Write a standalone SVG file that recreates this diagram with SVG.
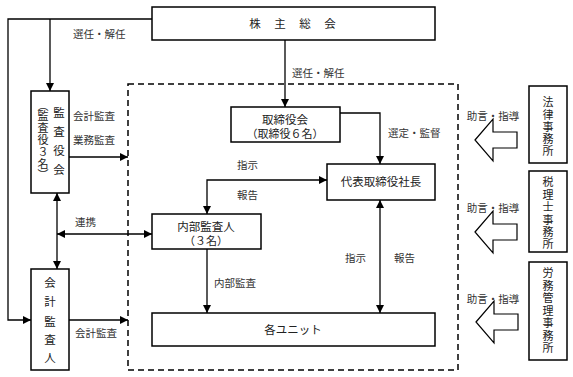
<svg xmlns="http://www.w3.org/2000/svg" width="573" height="377" viewBox="0 0 573 377">
<style>
.box{fill:#fff;stroke:#000;stroke-width:1.5}
.ln{fill:none;stroke:#000;stroke-width:1.3}
.blk{fill:#fff;stroke:#000;stroke-width:1.2;stroke-linejoin:miter}
text{font-family:"Noto Sans CJK JP","Noto Sans CJK SC",sans-serif;font-size:11.5px;fill:#222}
.c{text-anchor:middle}
.lb{font-size:10.5px;fill:#333}
.s{font-size:11px}
</style>
<defs>
<marker id="ah" viewBox="0 0 10 10" refX="10" refY="5" markerWidth="8" markerHeight="8" markerUnits="userSpaceOnUse" orient="auto-start-reverse">
<path d="M0,0 L10,5 L0,10 Z" fill="#000"/>
</marker>
</defs>
<rect x="0" y="0" width="573" height="377" fill="#fff"/>
<rect x="128" y="84" width="330" height="286" fill="none" stroke="#000" stroke-width="1.5" stroke-dasharray="6,4"/>
<g id="connectors">
<polyline class="ln" points="152,19 8,19 8,320 31,320" marker-end="url(#ah)"/>
<line class="ln" x1="50" y1="19" x2="50" y2="91" marker-end="url(#ah)"/>
<line class="ln" x1="285" y1="40" x2="285" y2="107" marker-end="url(#ah)"/>
<line class="ln" x1="69" y1="157" x2="128" y2="157" marker-end="url(#ah)"/>
<line class="ln" x1="57" y1="193" x2="57" y2="269" marker-start="url(#ah)" marker-end="url(#ah)"/>
<line class="ln" x1="57" y1="234" x2="152" y2="234" marker-start="url(#ah)" marker-end="url(#ah)"/>
<line class="ln" x1="69" y1="320" x2="128" y2="320" marker-end="url(#ah)"/>
<polyline class="ln" points="340,113 380,113 380,164" marker-end="url(#ah)"/>
<polyline class="ln" points="207,214 207,180 327,180" marker-start="url(#ah)" marker-end="url(#ah)"/>
<line class="ln" x1="207" y1="249" x2="207" y2="313" marker-end="url(#ah)"/>
<line class="ln" x1="380" y1="200" x2="380" y2="313" marker-start="url(#ah)" marker-end="url(#ah)"/>
<polygon class="blk" points="475,140 493,119 493,132 517,132 517,148 493,148 493,161"/>
<polygon class="blk" points="475,232 493,211 493,224 517,224 517,240 493,240 493,253"/>
<polygon class="blk" points="476,322 494,301 494,314 518,314 518,330 494,330 494,343"/>
<text class="lb" x="73" y="38">選任・解任</text>
<text class="lb" x="292" y="77">選任・解任</text>
<text class="lb" x="73" y="120">会計監査</text>
<text class="lb" x="73" y="144">業務監査</text>
<text class="lb" x="75" y="226">連携</text>
<text class="lb" x="75" y="337">会計監査</text>
<text class="lb" x="388" y="137">選定・監督</text>
<text class="lb" x="237" y="169">指示</text>
<text class="lb" x="237" y="199">報告</text>
<text class="lb" x="214" y="287">内部監査</text>
<text class="lb" x="345" y="262">指示</text>
<text class="lb" x="394" y="262">報告</text>
<text class="lb c" x="493" y="120">助言・指導</text>
<text class="lb c" x="493" y="212">助言・指導</text>
<text class="lb c" x="493" y="303">助言・指導</text>
</g>
<g id="kabunushi">
<rect class="box" x="152" y="7" width="283" height="33"/>
<text class="c" x="255" y="28">株</text>
<text class="c" x="280" y="28">主</text>
<text class="c" x="305" y="28">総</text>
<text class="c" x="330" y="28">会</text>
</g>
<g id="kansayakukai">
<rect class="box" x="31" y="91" width="38" height="102"/>
<text class="c" x="59" y="117">監</text>
<text class="c" x="59" y="136">査</text>
<text class="c" x="59" y="155">役</text>
<text class="c" x="59" y="174">会</text>
<text class="c s" x="43" y="110">︵</text>
<text class="c s" x="43" y="120">監</text>
<text class="c s" x="43" y="132">査</text>
<text class="c s" x="43" y="144">役</text>
<text class="c s" x="43" y="156">３</text>
<text class="c s" x="43" y="168">名</text>
<text class="c s" x="43" y="179">︶</text>
</g>
<g id="kaikeikansanin">
<rect class="box" x="31" y="269" width="38" height="101"/>
<text class="c" x="50" y="287">会</text>
<text class="c" x="50" y="306">計</text>
<text class="c" x="50" y="326">監</text>
<text class="c" x="50" y="344">査</text>
<text class="c" x="50" y="362">人</text>
</g>
<g id="torishimariyakukai">
<rect class="box" x="231" y="107" width="109" height="35"/>
<text class="c" x="285" y="124">取締役会</text>
<text class="c s" x="285" y="138">（取締役６名）</text>
</g>
<g id="shacho">
<rect class="box" x="327" y="164" width="108" height="36"/>
<text class="c" x="381" y="186">代表取締役社長</text>
</g>
<g id="naibukansanin">
<rect class="box" x="152" y="214" width="109" height="35"/>
<text class="c" x="206" y="231">内部監査人</text>
<text class="c s" x="206" y="245">（３名）</text>
</g>
<g id="units">
<rect class="box" x="152" y="313" width="283" height="33"/>
<text class="c" x="293" y="334">各ユニット</text>
</g>
<g id="houritsu">
<rect class="box" x="529" y="86" width="38" height="77"/>
<text class="c s" x="548" y="106">法</text>
<text class="c s" x="548" y="119">律</text>
<text class="c s" x="548" y="131">事</text>
<text class="c s" x="548" y="143">務</text>
<text class="c s" x="548" y="155">所</text>
</g>
<g id="zeirishi">
<rect class="box" x="529" y="171" width="38" height="81"/>
<text class="c s" x="548" y="186">税</text>
<text class="c s" x="548" y="199">理</text>
<text class="c s" x="548" y="211">士</text>
<text class="c s" x="548" y="224">事</text>
<text class="c s" x="548" y="236">務</text>
<text class="c s" x="548" y="248">所</text>
</g>
<g id="roumu">
<rect class="box" x="529" y="262" width="38" height="98"/>
<text class="c s" x="548" y="277">労</text>
<text class="c s" x="548" y="290">務</text>
<text class="c s" x="548" y="302">管</text>
<text class="c s" x="548" y="315">理</text>
<text class="c s" x="548" y="327">事</text>
<text class="c s" x="548" y="340">務</text>
<text class="c s" x="548" y="352">所</text>
</g>
</svg>
